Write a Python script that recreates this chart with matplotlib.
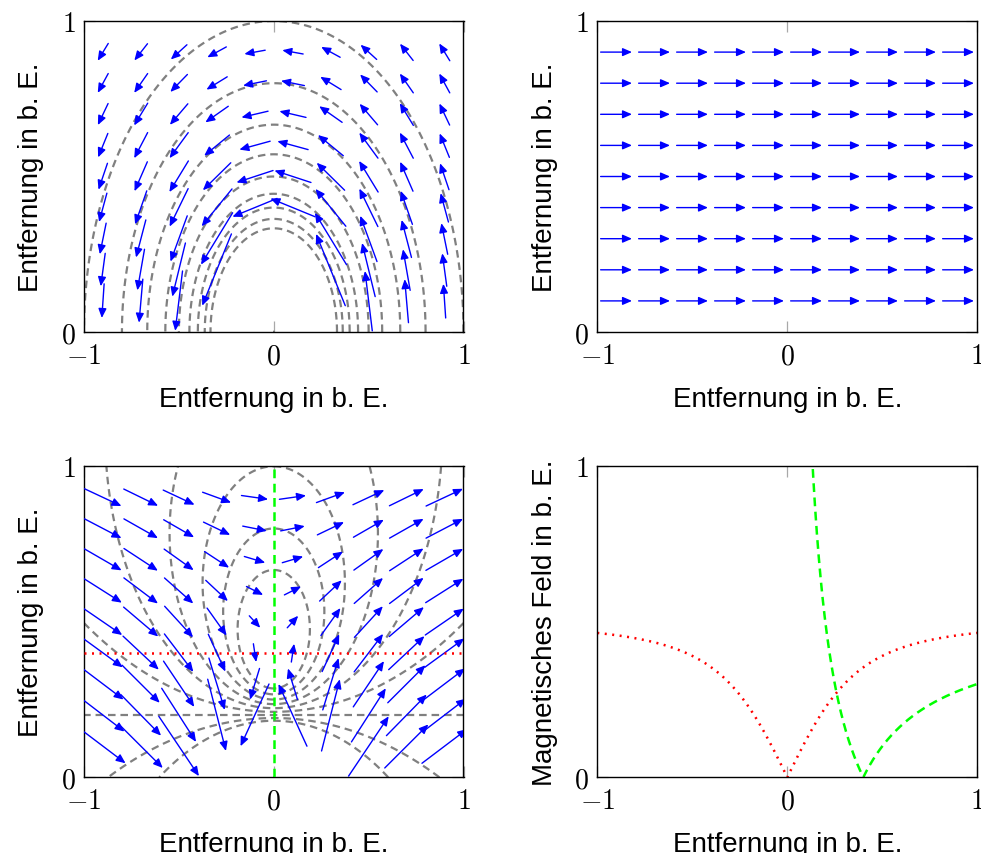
import numpy as np
import matplotlib
matplotlib.use("Agg")
import matplotlib.pyplot as plt
from matplotlib.patches import FancyArrowPatch

# ---------------- data ----------------
X_TICKS = [-1, 0, 1]
X_TICK_LABELS = [r"$-1$", r"$0$", r"$1$"]
Y_TICKS = [0, 1]
Y_TICK_LABELS = [r"$0$", r"$1$"]
AXIS_LABEL = "Entfernung in b. E."
FIELD_LABEL = "Magnetisches Feld in b. E."

GRID_X = [-0.9, -0.7, -0.5, -0.3, -0.1, 0.1, 0.3, 0.5, 0.7, 0.9]
GRID_Y = [0.1, 0.2, 0.3, 0.4, 0.5, 0.6, 0.7, 0.8, 0.9]

WIRE_X, WIRE_Y = 0.0, 0.0      # wire position
WIRE_STRENGTH = 0.2            # |B| = WIRE_STRENGTH / r
UNIFORM_FIELD = 0.5            # external field along +x
UNIFORM_ARROW = 0.165          # arrow length shown for the homogeneous field
ARROW_SCALE = 0.5              # arrow length per field unit
B_MAX_SHOWN = 0.6              # arrows with larger |B| are omitted
CONTOUR_LEVELS = [0.2, 0.25, 0.3, 0.35, 0.4, 0.45, 0.5, 0.55, 0.6]
RED_LINE_Y = 0.4               # cut along y = 0.4
GREEN_LINE_X = 0.0             # cut along x = 0

# ---------------- style ----------------
plt.rcParams["mathtext.fontset"] = "cm"
plt.rcParams["font.family"] = ["Liberation Sans", "DejaVu Sans"]

BLUE = "#0000ff"
GRAY = "#808080"
GREEN = "#00ff00"
RED = "#ff0000"


def field(x, y, ext):
    dx = np.asarray(x, float) - WIRE_X
    dy = np.asarray(y, float) - WIRE_Y
    r2 = np.maximum(dx * dx + dy * dy, 1e-9)
    bx = -WIRE_STRENGTH * dy / r2 + ext
    by = WIRE_STRENGTH * dx / r2
    return bx, by


def style_axes(ax, ylabel=AXIS_LABEL):
    ax.set_xlim(-1, 1)
    ax.set_ylim(0, 1)
    ax.set_xticks(X_TICKS)
    ax.set_xticklabels(X_TICK_LABELS)
    ax.set_yticks(Y_TICKS)
    ax.set_yticklabels(Y_TICK_LABELS)
    ax.tick_params(direction="in", length=8, width=0.9, color="#a8a8a8",
                   labelsize=20, top=True, right=True, pad=6)
    ax.tick_params(axis="x", pad=8)
    for s in ax.spines.values():
        s.set_linewidth(1.0)
        s.set_color("black")
    ax.set_xlabel(AXIS_LABEL, fontsize=20, labelpad=12)
    ax.set_ylabel(ylabel, fontsize=20, labelpad=12)


def draw_arrows(ax, us, vs, xs, ys):
    for x, y, u, v in zip(xs, ys, us, vs):
        p = FancyArrowPatch((x - u / 2, y - v / 2), (x + u / 2, y + v / 2),
                            arrowstyle="-|>,head_length=5.5,head_width=2.4",
                            mutation_scale=1, color=BLUE, lw=1.0,
                            shrinkA=0, shrinkB=0, zorder=3)
        ax.add_patch(p)


fig = plt.figure(figsize=(9.81, 8.54), dpi=100)
W, H = 981.0, 854.0
ax1 = fig.add_axes([84 / W, 1 - 333 / H, 379.5 / W, 311 / H])
ax2 = fig.add_axes([597.3 / W, 1 - 333 / H, 380 / W, 311 / H])
ax3 = fig.add_axes([84 / W, 1 - 778.3 / H, 379.5 / W, 311 / H])
ax4 = fig.add_axes([597.3 / W, 1 - 778.3 / H, 380 / W, 311 / H])

gx, gy = np.meshgrid(GRID_X, GRID_Y)
gx = gx.ravel()
gy = gy.ravel()

cx = np.linspace(-1, 1, 801)
cy = np.linspace(0, 1, 577)
CX, CY = np.meshgrid(cx, cy)
dash = [(0, (3.4, 2.2))]

# --- top left: wire only ---
bx, by = field(CX, CY, 0.0)
ax1.contour(CX, CY, np.hypot(bx, by), levels=CONTOUR_LEVELS, colors=GRAY,
            linewidths=1.6, linestyles=dash, zorder=2)
bx, by = field(gx, gy, 0.0)
mag = np.hypot(bx, by)
keep = mag <= B_MAX_SHOWN
draw_arrows(ax1, ARROW_SCALE * bx[keep], ARROW_SCALE * by[keep], gx[keep], gy[keep])
style_axes(ax1)

# --- top right: homogeneous field ---
draw_arrows(ax2, np.full(gx.size, UNIFORM_ARROW), np.zeros(gx.size), gx, gy)
style_axes(ax2)

# --- bottom left: superposition ---
bx, by = field(CX, CY, UNIFORM_FIELD)
ax3.contour(CX, CY, np.hypot(bx, by), levels=CONTOUR_LEVELS, colors=GRAY,
            linewidths=1.6, linestyles=dash, zorder=2)
bx, by = field(gx, gy, UNIFORM_FIELD)
mag = np.hypot(bx, by)
keep = mag <= B_MAX_SHOWN
draw_arrows(ax3, ARROW_SCALE * bx[keep], ARROW_SCALE * by[keep], gx[keep], gy[keep])
ax3.plot([GREEN_LINE_X, GREEN_LINE_X], [0, 1], color=GREEN, lw=1.8,
         linestyle=(0, (3.5, 2.2)), zorder=4)
ax3.plot([-1, 1], [RED_LINE_Y, RED_LINE_Y], color=RED, lw=1.8,
         linestyle=(0, (0.8, 2.2)), zorder=4)
style_axes(ax3)

# --- bottom right: field magnitude along the two cuts ---
sx = np.linspace(-1, 1, 801)
bx, by = field(sx, np.full(sx.size, RED_LINE_Y), UNIFORM_FIELD)
ax4.plot(sx, np.hypot(bx, by), color=RED, lw=1.8, linestyle=(0, (0.8, 2.2)))
sy = np.linspace(0.05, 1, 801)
bx, by = field(np.full(sy.size, GREEN_LINE_X), sy, UNIFORM_FIELD)
ax4.plot(sy, np.hypot(bx, by), color=GREEN, lw=1.8, linestyle=(0, (3.5, 2.2)))
style_axes(ax4, FIELD_LABEL)

fig.savefig("out.png", dpi=100)
